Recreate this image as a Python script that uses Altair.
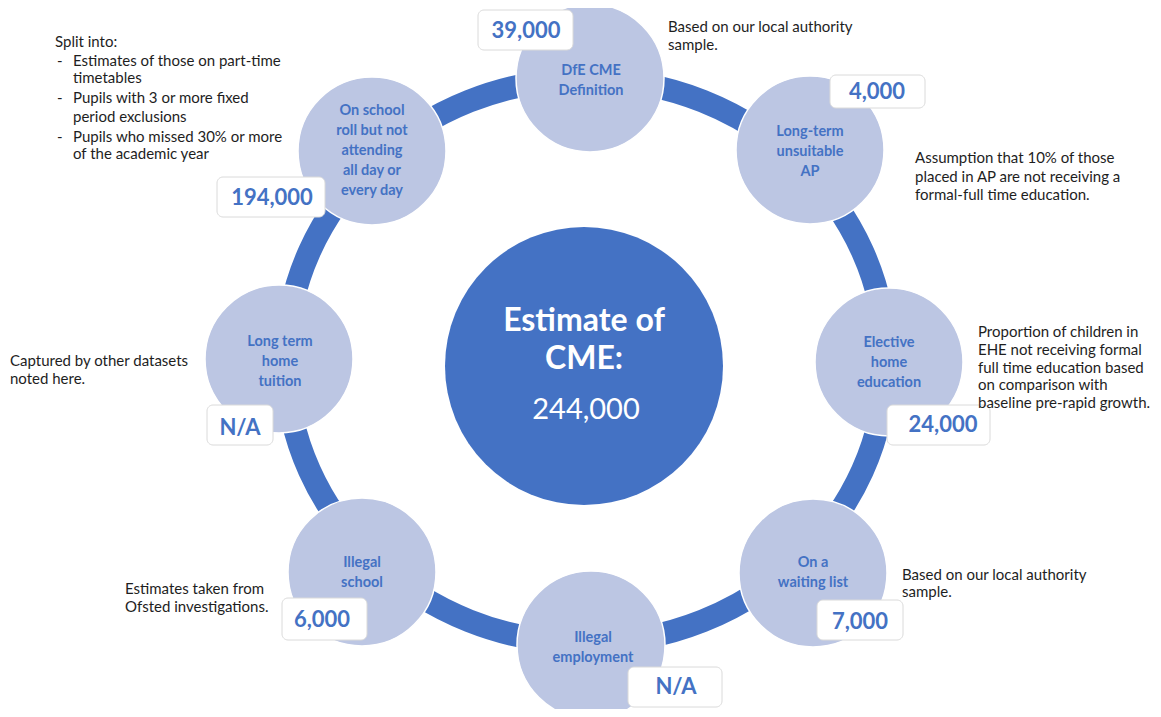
import altair as alt
import pandas as pd

# ---------------- data ----------------
node_labels = ["DfE CME\nDefinition", "Long-term\nunsuitable\nAP", "Elective\nhome\neducation",
               "On a\nwaiting list", "Illegal\nemployment", "Illegal\nschool",
               "Long term\nhome\ntuition", "On school\nroll but not\nattending\nall day or\nevery day"]
node_x = [590, 810, 889, 813, 591, 362, 279, 372]
node_y = [78, 150, 362, 573, 645, 572, 359, 151]
# position of the first line of each label
label_x = [591, 810, 889, 813, 593, 362, 280, 372]
label_y = [71, 132, 343, 563, 638, 563, 342, 111]

values = ["39,000", "4,000", "24,000", "7,000", "N/A", "6,000", "N/A", "194,000"]
box_x1 = [478, 830, 887, 817, 628, 282, 207, 217]
box_x2 = [573, 925, 990, 903, 722, 367, 273, 325]
box_y1 = [10, 75, 405, 600, 667, 598, 405, 177]
box_y2 = [50, 108, 445, 640, 707, 640, 445, 217]
value_x = [526, 877, 943, 860, 676, 322, 240, 272]
value_y = [31, 92, 425, 622, 687, 620, 428, 198]

title_lines = ["Estimate of", "CME:"]
title_y = [321, 359]
total_text = ["244,000"]
total_y = [410]

ann_text = ["Split into:",
            "-", "Estimates of those on part-time", "timetables",
            "-", "Pupils with 3 or more fixed", "period exclusions",
            "-", "Pupils who missed 30% or more", "of the academic year",
            "Based on our local authority", "sample.",
            "Assumption that 10% of those", "placed in AP are not receiving a", "formal-full time education.",
            "Proportion of children in", "EHE not receiving formal", "full time education based",
            "on comparison with", "baseline pre-rapid growth.",
            "Captured by other datasets", "noted here.",
            "Based on our local authority", "sample.",
            "Estimates taken from", "Ofsted investigations."]
ann_x = [55, 57, 73, 73, 57, 73, 73, 57, 73, 73,
         668, 668,
         915, 915, 915,
         978, 978, 978, 978, 978,
         10, 10,
         902, 902,
         125, 125]
ann_y = [42, 61, 61, 78, 98, 98, 117, 137, 137, 154,
         27, 45,
         158, 177, 195,
         332, 350, 368, 385, 403,
         361, 379,
         575, 592,
         589, 607]

ring_x, ring_y = [586], [361]
hub_x, hub_y = [584], [366]

# ---------------- tables ----------------
nodes = pd.DataFrame({"x": node_x, "y": node_y})
labels = pd.DataFrame({"x": label_x, "y": label_y, "t": node_labels})
boxes = pd.DataFrame({"x": box_x1, "x2": box_x2, "y": box_y1, "y2": box_y2})
vals = pd.DataFrame({"x": value_x, "y": value_y, "t": values})
titles = pd.DataFrame({"x": [584] * len(title_lines), "y": title_y, "t": title_lines})
total = pd.DataFrame({"x": [586], "y": total_y, "t": total_text})
ann = pd.DataFrame({"x": ann_x, "y": ann_y, "t": ann_text})
ring = pd.DataFrame({"x": ring_x, "y": ring_y})
hub = pd.DataFrame({"x": hub_x, "y": hub_y})

BLUE = "#4472C4"
LIGHT = "#BCC6E3"
FONT = "Lato"

xs = alt.Scale(domain=[8, 1153], nice=False, zero=False)
ys = alt.Scale(domain=[8, 709], nice=False, zero=False, reverse=True)
X = alt.X("x:Q", scale=xs, axis=None)
Y = alt.Y("y:Q", scale=ys, axis=None)

k = 300 / 282
ell = f"M-{k},0A{k},1,0,1,1,{k},0A{k},1,0,1,1,-{k},0Z"

ring_layer = alt.Chart(ring).mark_point(
    shape=ell, filled=False, stroke=BLUE, strokeWidth=23, opacity=1, size=(2 * 282) ** 2
).encode(x=X, y=Y)

hub_layer = alt.Chart(hub).mark_point(
    shape="circle", filled=True, fill=BLUE, opacity=1, strokeWidth=0, size=(2 * 139) ** 2
).encode(x=X, y=Y)

node_layer = alt.Chart(nodes).mark_point(
    shape="circle", filled=True, fill=LIGHT, opacity=1, stroke="white", strokeWidth=1.5,
    size=(2 * 74) ** 2
).encode(x=X, y=Y)

label_layer = alt.Chart(labels).mark_text(
    font=FONT, fontSize=14.5, fontWeight="bold", color=BLUE, lineBreak="\n", lineHeight=20,
    align="center", baseline="middle"
).encode(x=X, y=Y, text="t:N")

box_layer = alt.Chart(boxes).mark_rect(
    fill="white", stroke="#dadada", strokeWidth=1, cornerRadius=6
).encode(x=X, x2="x2:Q", y=Y, y2="y2:Q")

val_layer = alt.Chart(vals).mark_text(
    font=FONT, fontSize=22, fontWeight="bold", color=BLUE, align="center", baseline="middle"
).encode(x=X, y=Y, text="t:N")

title_layer = alt.Chart(titles).mark_text(
    font=FONT, fontSize=32, fontWeight="bold", color="white", align="center", baseline="middle"
).encode(x=X, y=Y, text="t:N")

total_layer = alt.Chart(total).mark_text(
    font=FONT, fontSize=29, color="white", align="center", baseline="middle"
).encode(x=X, y=Y, text="t:N")

ann_layer = alt.Chart(ann).mark_text(
    font=FONT, fontSize=15, color="#1e1e1e", align="left", baseline="middle"
).encode(x=X, y=Y, text="t:N")

chart = alt.layer(
    ring_layer, hub_layer, node_layer, label_layer, box_layer, val_layer,
    title_layer, total_layer, ann_layer
).properties(
    width=1145, height=701, autosize=alt.AutoSizeParams(type="none"), padding=0
).configure(background="white").configure_view(stroke=None)

chart.save("out.html", embed_options={"renderer": "svg", "actions": False})
